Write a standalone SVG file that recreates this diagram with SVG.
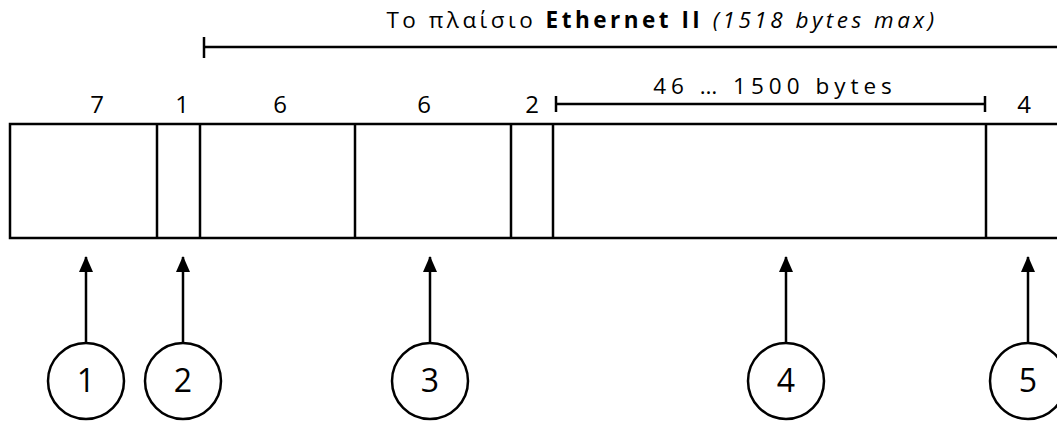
<svg xmlns="http://www.w3.org/2000/svg" width="1057" height="421" viewBox="0 0 1057 421">
<style>
.ln{stroke:#000;stroke-width:2.5;fill:none}
.t{font-family:"Open Sans","Liberation Sans",sans-serif;font-size:22.5px;fill:#000;text-anchor:middle}
.s{font-family:"Open Sans","Liberation Sans",sans-serif;font-size:24px;fill:#000;text-anchor:middle}
.n{font-family:"Open Sans","Liberation Sans",sans-serif;font-size:32px;fill:#000;text-anchor:middle}
</style>
<defs>
<marker id="a" viewBox="0 0 16 16" refX="15" refY="8" markerWidth="16" markerHeight="16" orient="auto" markerUnits="userSpaceOnUse">
<path d="M0,1 L16,8 L0,15 z" fill="#000"/>
</marker>
</defs>
<rect width="1057" height="421" fill="#fff"/>
<g id="title">
<text class="t" x="662" y="28" letter-spacing="3.5">Το πλαίσιο <tspan font-weight="bold">Ethernet II</tspan> <tspan font-style="italic">(1518 bytes max)</tspan></text>
<line class="ln" x1="204" y1="47" x2="1060" y2="47"/>
<line class="ln" x1="204" y1="37" x2="204" y2="58"/>
</g>
<g id="frame">
<path class="ln" d="M1060,124 H10 V238 H1060"/>
<line class="ln" x1="157" y1="124" x2="157" y2="238"/>
<line class="ln" x1="200" y1="124" x2="200" y2="238"/>
<line class="ln" x1="355" y1="124" x2="355" y2="238"/>
<line class="ln" x1="511" y1="124" x2="511" y2="238"/>
<line class="ln" x1="553" y1="124" x2="553" y2="238"/>
<line class="ln" x1="986" y1="124" x2="986" y2="238"/>
</g>
<g id="sizes">
<text class="s" x="97" y="113">7</text>
<text class="s" x="182" y="113">1</text>
<text class="s" x="280" y="113">6</text>
<text class="s" x="424" y="113">6</text>
<text class="s" x="532" y="113">2</text>
<text class="s" x="1024" y="113">4</text>
</g>
<g id="payload">
<text class="t" x="775" y="94" font-size="24" letter-spacing="5">46 … 1500 bytes</text>
<line class="ln" x1="556" y1="104" x2="985" y2="104"/>
<line class="ln" x1="556" y1="96" x2="556" y2="112"/>
<line class="ln" x1="985" y1="96" x2="985" y2="112"/>
</g>
<g id="connectors">
<line class="ln" x1="86" y1="343" x2="86" y2="257" marker-end="url(#a)"/>
<line class="ln" x1="183" y1="343" x2="183" y2="257" marker-end="url(#a)"/>
<line class="ln" x1="430" y1="343" x2="430" y2="257" marker-end="url(#a)"/>
<line class="ln" x1="786" y1="343" x2="786" y2="257" marker-end="url(#a)"/>
<line class="ln" x1="1028" y1="343" x2="1028" y2="257" marker-end="url(#a)"/>
</g>
<g id="n1"><circle class="ln" cx="86" cy="381" r="38"/><text class="n" x="86" y="392">1</text></g>
<g id="n2"><circle class="ln" cx="183" cy="381" r="38"/><text class="n" x="183" y="392">2</text></g>
<g id="n3"><circle class="ln" cx="430" cy="381" r="38"/><text class="n" x="430" y="392">3</text></g>
<g id="n4"><circle class="ln" cx="786" cy="381" r="38"/><text class="n" x="786" y="392">4</text></g>
<g id="n5"><circle class="ln" cx="1028" cy="381" r="38"/><text class="n" x="1028" y="392">5</text></g>
</svg>
